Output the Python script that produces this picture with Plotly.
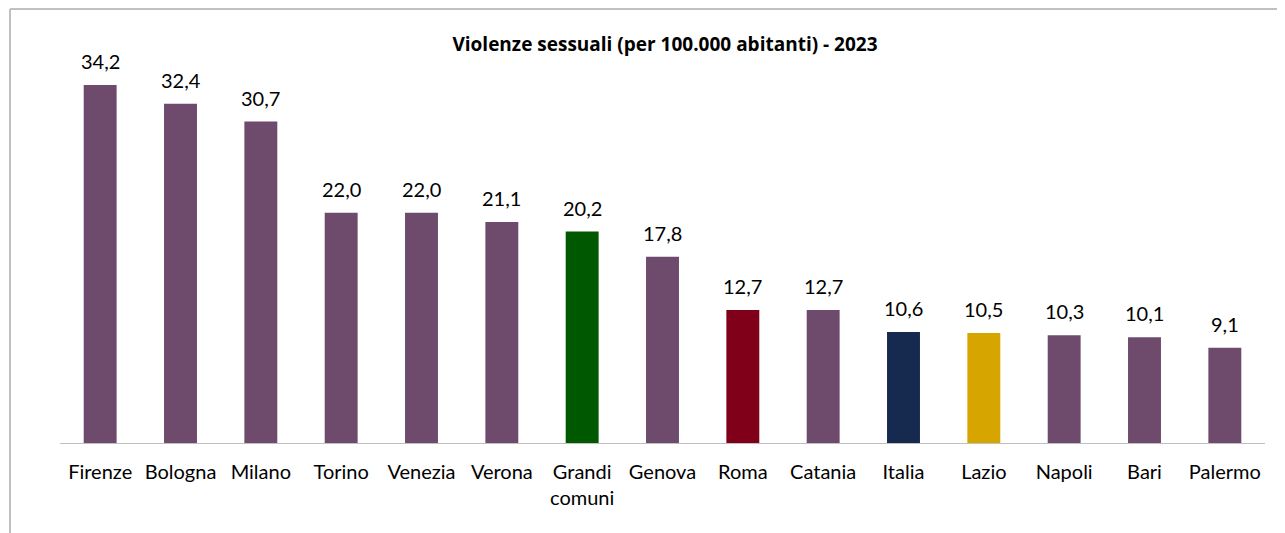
import plotly.graph_objects as go

categories = ["Firenze", "Bologna", "Milano", "Torino", "Venezia", "Verona", "Grandi<br>comuni",
              "Genova", "Roma", "Catania", "Italia", "Lazio", "Napoli", "Bari", "Palermo"]
values = [34.2, 32.4, 30.7, 22.0, 22.0, 21.1, 20.2, 17.8, 12.7, 12.7, 10.6, 10.5, 10.3, 10.1, 9.1]

PURPLE = "#6E4B6D"
special = {"Grandi<br>comuni": "#005800", "Roma": "#80001A", "Italia": "#16294F", "Lazio": "#D6A500"}
colors = [special.get(c, PURPLE) for c in categories]
labels = [f"{v:.1f}".replace(".", ",") for v in values]

W, H = 1285, 533
ml, mr, mt, mb = 52, 28, 32, 98
ymax = (H - mt - mb) / 10.47

fig = go.Figure(go.Bar(x=categories, y=values, marker=dict(color=colors, line=dict(width=0)),
                       width=0.41, hoverinfo="x+y"))

for c, v, t in zip(categories, values, labels):
    fig.add_annotation(x=c, y=v, text=t, showarrow=False, yanchor="bottom", yshift=10,
                       font=dict(size=20, color="#000000", family="Lato"))

pw = W - ml - mr
ph = H - mt - mb
fx0 = (2 - ml) / pw
fy1 = (H - mb - 1) / ph
fy0 = (H - mb - H - 5) / ph
fx1 = (W + 5 - ml) / pw
fig.add_shape(type="line", xref="paper", yref="paper", x0=fx0, x1=fx0, y0=fy0, y1=fy1,
              line=dict(color="#C0C0C0", width=2))
fig.add_shape(type="line", xref="paper", yref="paper", x0=fx0, x1=fx1, y0=fy1, y1=fy1,
              line=dict(color="#C0C0C0", width=2))

fig.update_layout(
    width=W, height=H, autosize=False,
    margin=dict(l=ml, r=mr, t=mt, b=mb),
    paper_bgcolor="white", plot_bgcolor="white",
    font=dict(family="Lato", size=20, color="#000000"),
    title=dict(text="<b>Violenze sessuali (per 100.000 abitanti) - 2023</b>",
               x=657 / W, xanchor="center", y=1 - 36 / H, yanchor="middle",
               font=dict(size=19, family="Open Sans", color="#000000")),
    showlegend=False,
    xaxis=dict(showline=True, linecolor="#BFBFBF", linewidth=1, ticks="", showgrid=False,
               tickfont=dict(size=20, color="#000000"), ticklabelstandoff=11, fixedrange=True),
    yaxis=dict(range=[0, ymax], visible=False, showgrid=False, fixedrange=True),
    bargap=0.59,
)

fig.write_html("out.html")
